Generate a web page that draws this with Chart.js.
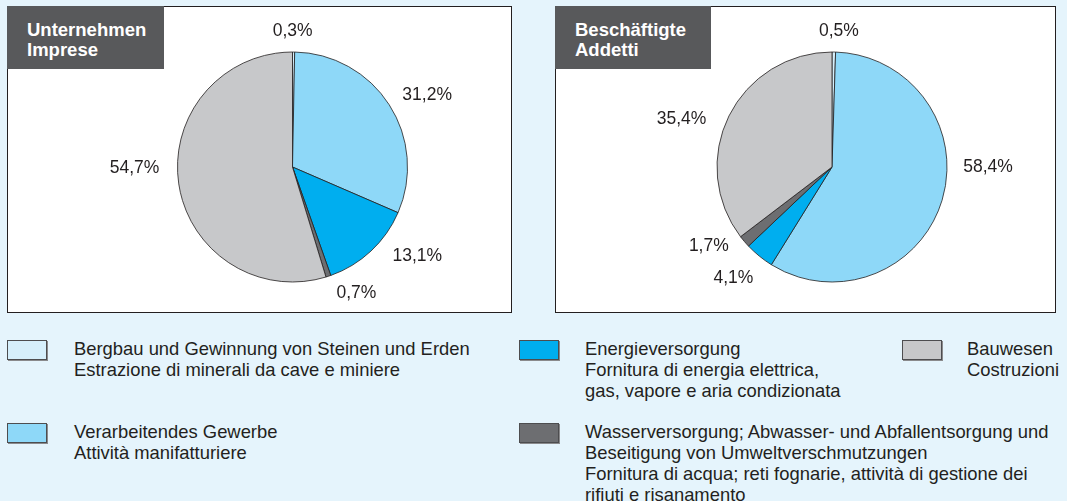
<!DOCTYPE html>
<html lang="de">
<head>
    <meta charset="UTF-8">
    <title>Unternehmen und Beschäftigte</title>
    <script src="https://cdn.jsdelivr.net/npm/chart.js"></script>
    <style>
        body {
            margin: 0;
            width: 1067px;
            height: 501px;
            background: #e5f4fc;
            font-family: "Liberation Sans", Arial, sans-serif;
            position: relative;
            overflow: hidden;
        }
        .box {
            position: absolute;
            top: 6px;
            height: 305px;
            background: #fff;
            border: 1px solid #231f20;
        }
        #boxLeft { left: 7px; width: 503px; }
        #boxRight { left: 555px; width: 499px; }
        .box canvas { position: absolute; left: 0; top: 0; }
        .title {
            position: absolute;
            left: -1px;
            top: -1px;
            width: 137px;
            height: 49px;
            padding: 14px 0 0 20px;
            background: #58595b;
            color: #fff;
            font-weight: bold;
            font-size: 18.5px;
            line-height: 20px;
        }
        #boxRight .title { width: 136px; }
        #legend {
            position: absolute;
            left: 7px;
            top: 340px;
            display: grid;
            grid-template-columns: 512px 383px auto;
            grid-template-rows: 83px 83px;
            grid-auto-flow: column;
        }
        .item { position: relative; height: 83px; }
        .swatch {
            position: absolute;
            left: 0;
            top: 0;
            width: 38px;
            height: 18px;
            border: 1px solid #4d4d4f;
            box-shadow: 1px 1px 0 #8a8a8c;
        }
        .text {
            position: absolute;
            top: -2.5px;
            left: 65px;
            font-size: 18.4px;
            line-height: 21px;
            color: #231f20;
            white-space: nowrap;
        }
        .item.c0 .text { left: 67px; }
        .item.c1 .text { left: 66px; }
    </style>
</head>
<body>

    <div class="box" id="boxLeft">
        <canvas id="chartLeft" width="503" height="305"></canvas>
        <div class="title">Unternehmen<br>Imprese</div>
    </div>
    <div class="box" id="boxRight">
        <canvas id="chartRight" width="499" height="305"></canvas>
        <div class="title">Beschäftigte<br>Addetti</div>
    </div>

    <div id="legend"></div>

    <script>
        // sectors (order = clockwise from 12 o'clock)
        const categories = [
            "Bergbau und Gewinnung von Steinen und Erden",
            "Verarbeitendes Gewerbe",
            "Energieversorgung",
            "Wasserversorgung; Abwasser- und Abfallentsorgung und Beseitigung von Umweltverschmutzungen",
            "Bauwesen"
        ];
        const legendLines = [
            ["Bergbau und Gewinnung von Steinen und Erden", "Estrazione di minerali da cave e miniere"],
            ["Verarbeitendes Gewerbe", "Attività manifatturiere"],
            ["Energieversorgung", "Fornitura di energia elettrica,", "gas, vapore e aria condizionata"],
            ["Wasserversorgung; Abwasser- und Abfallentsorgung und", "Beseitigung von Umweltverschmutzungen",
             "Fornitura di acqua; reti fognarie, attività di gestione dei", "rifiuti e risanamento"],
            ["Bauwesen", "Costruzioni"]
        ];

        // shares in %
        const unternehmen = [0.3, 31.2, 13.1, 0.7, 54.7];
        const beschaeftigte = [0.5, 58.4, 4.1, 1.7, 35.4];

        const colors = ['#d6effb', '#8ed8f8', '#00aeef', '#6d6e71', '#c7c8ca'];

        // label placement: [angle shift in degrees, distance beyond the rim]
        const labelNudgeLeft = [[-0.5, 22], [4.4, 38], [-11.6, 38], [-8.8, 26], [8.5, 43]];
        const labelNudgeRight = [[2, 22], [-17, 41], [2.6, 33], [7.9, 31], [-8.5, 43]];

        function fmt(v) {
            return v.toFixed(1).replace('.', ',') + '%';
        }

        const sliceLabels = {
            id: 'sliceLabels',
            afterDatasetsDraw(chart, args, opts) {
                const ctx = chart.ctx;
                const meta = chart.getDatasetMeta(0);
                const values = chart.data.datasets[0].data;
                ctx.save();
                ctx.font = '17.5px "Liberation Sans", Arial, sans-serif';
                ctx.fillStyle = '#231f20';
                ctx.textAlign = 'center';
                ctx.textBaseline = 'middle';
                meta.data.forEach((arc, i) => {
                    const n = opts.nudge[i];
                    const a = (arc.startAngle + arc.endAngle) / 2 + n[0] * Math.PI / 180;
                    const d = arc.outerRadius + n[1];
                    ctx.fillText(fmt(values[i]), arc.x + Math.cos(a) * d, arc.y + Math.sin(a) * d + 1);
                });
                ctx.restore();
            }
        };

        function makePie(id, values, nudge, padding) {
            return new Chart(document.getElementById(id), {
                type: 'pie',
                data: {
                    labels: categories,
                    datasets: [{
                        data: values,
                        backgroundColor: colors,
                        borderColor: '#231f20',
                        borderWidth: 0.8,
                        radius: 115
                    }]
                },
                options: {
                    responsive: false,
                    animation: false,
                    layout: { padding: padding },
                    plugins: {
                        legend: { display: false },
                        tooltip: { enabled: false },
                        sliceLabels: { nudge: nudge }
                    }
                },
                plugins: [sliceLabels]
            });
        }

        makePie('chartLeft', unternehmen, labelNudgeLeft, { left: 169.5, right: 103.5, top: 45, bottom: 30 });
        makePie('chartRight', beschaeftigte, labelNudgeRight, { left: 161, right: 108, top: 45, bottom: 30 });

        // legend
        const legendEl = document.getElementById('legend');
        legendLines.forEach((lines, i) => {
            const item = document.createElement('div');
            item.className = 'item c' + Math.floor(i / 2);
            item.innerHTML = '<div class="swatch" style="background:' + colors[i] + '"></div>' +
                '<div class="text">' + lines.join('<br>') + '</div>';
            legendEl.appendChild(item);
        });
    </script>
</body>
</html>
